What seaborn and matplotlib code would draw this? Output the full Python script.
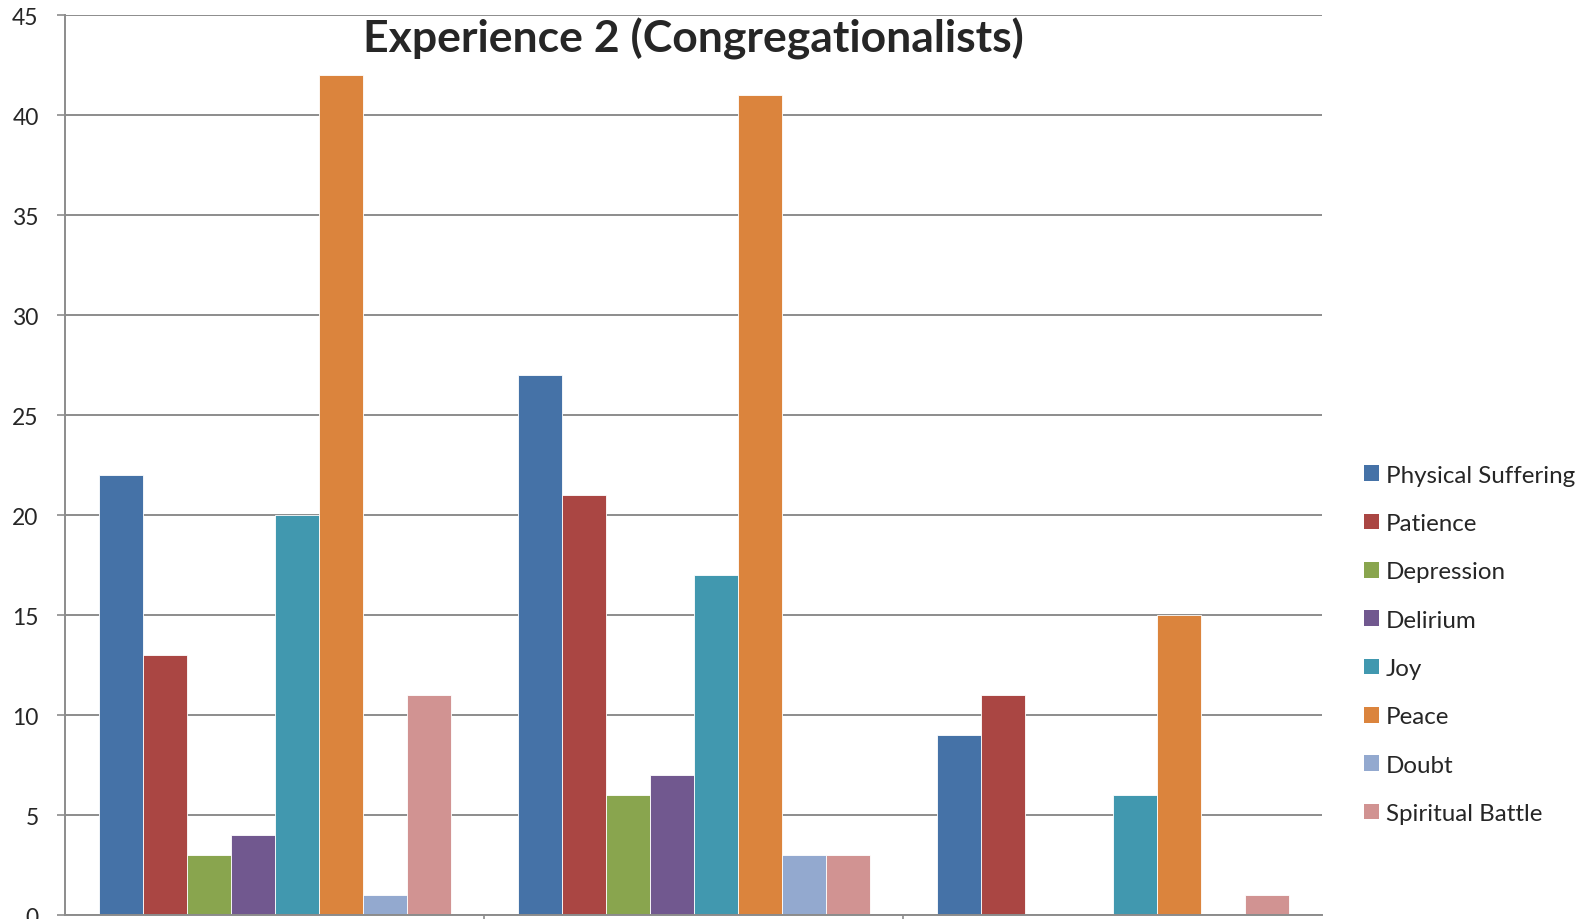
import matplotlib
matplotlib.use("Agg")
import matplotlib.pyplot as plt
import seaborn as sns
import pandas as pd
from matplotlib.patches import Patch

# Counts per theme for the three groups
groups = ["Group 1", "Group 2", "Group 3"]
themes = ["Physical Suffering", "Patience", "Depression", "Delirium",
          "Joy", "Peace", "Doubt", "Spiritual Battle"]
physical_suffering = [22, 27, 9]
patience = [13, 21, 11]
depression = [3, 6, 0]
delirium = [4, 7, 0]
joy = [20, 17, 6]
peace = [42, 41, 15]
doubt = [1, 3, 0]
spiritual_battle = [11, 3, 1]
colors = ["#4572A7", "#AA4643", "#89A54E", "#71588F",
          "#4198AF", "#DB843D", "#93A9CF", "#D19392"]
yticks = [0, 5, 10, 15, 20, 25, 30, 35, 40, 45]

series = [physical_suffering, patience, depression, delirium,
          joy, peace, doubt, spiritual_battle]
rows = []
for theme, vals in zip(themes, series):
    for g, v in zip(groups, vals):
        rows.append({"group": g, "theme": theme, "count": v})
df = pd.DataFrame(rows)

sns.set_theme(style="white")
plt.rcParams["font.family"] = ["Lato", "DejaVu Sans"]

fig = plt.figure(figsize=(15.94, 9.2), dpi=100)
ax = fig.add_axes([0.0408, 0.0043, 0.7886, 0.9783])

sns.barplot(data=df, x="group", y="count", hue="theme", hue_order=themes,
            order=groups, palette=colors, width=0.84, saturation=1,
            edgecolor="white", linewidth=0.6, legend=False, ax=ax)

ax.set_xlim(-0.5, 2.5)
ax.set_ylim(0, 45)
ax.set_yticks(yticks)
ax.set_yticklabels([str(t) for t in yticks], fontsize=16.5)
ax.yaxis.grid(True, color="#8c8c8c", linewidth=1.4)
ax.set_axisbelow(True)
ax.set_xticks([0.5, 1.5])
ax.set_xticklabels([])
ax.set_xlabel("")
ax.set_ylabel("")
ax.tick_params(axis="y", length=6, width=1.2, color="#8c8c8c", pad=13,
               left=True, direction="out")
ax.tick_params(axis="x", length=6, width=1.2, color="#8c8c8c",
               bottom=True, direction="out")
for side in ["top", "right"]:
    ax.spines[side].set_visible(False)
for side in ["left", "bottom"]:
    ax.spines[side].set_color("#8c8c8c")
    ax.spines[side].set_linewidth(1.4)

ax.text(0.5, 0.974, "Experience 2 (Congregationalists)", transform=ax.transAxes,
        ha="center", va="center", fontsize=32, fontweight="bold")

handles = [Patch(facecolor=c, edgecolor="none", label=t)
           for c, t in zip(colors, themes)]
fig.legend(handles=handles, loc="center left", bbox_to_anchor=(0.842, 0.2985),
           frameon=False, fontsize=17.4, handlelength=0.62, handleheight=0.62,
           handletextpad=0.3, labelspacing=1.13)

fig.savefig("out.png", dpi=100, facecolor="white")
